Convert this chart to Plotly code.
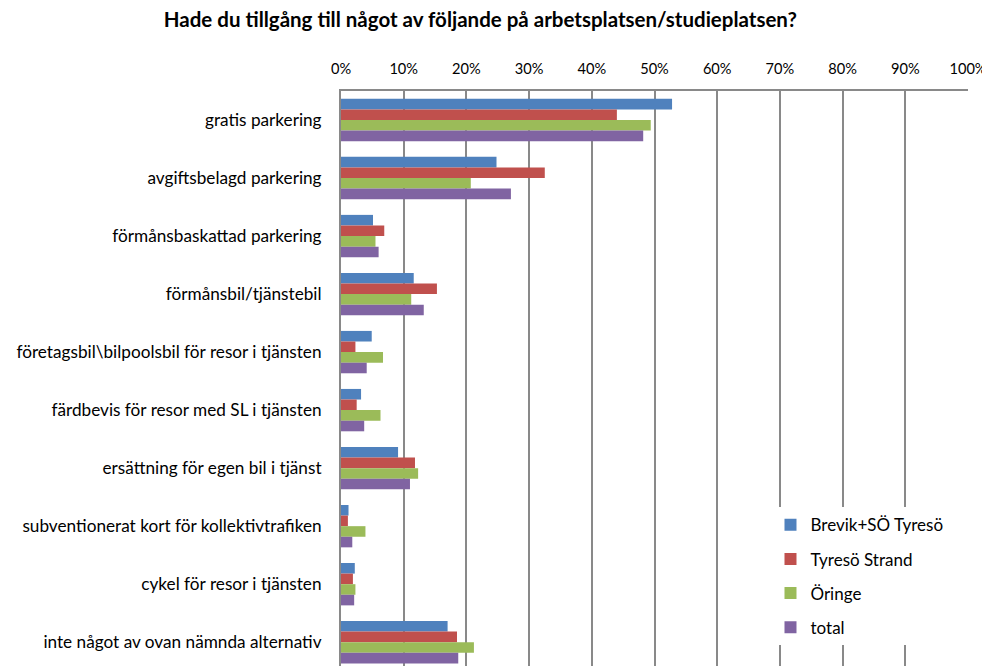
import plotly.graph_objects as go

categories = [
    "gratis parkering",
    "avgiftsbelagd parkering",
    "förmånsbaskattad parkering",
    "förmånsbil/tjänstebil",
    "företagsbil\\bilpoolsbil för resor i tjänsten",
    "färdbevis för resor med SL i tjänsten",
    "ersättning för egen bil i tjänst",
    "subventionerat kort för kollektivtrafiken",
    "cykel för resor i tjänsten",
    "inte något av ovan nämnda alternativ",
]
series_names = ["Brevik+SÖ Tyresö", "Tyresö Strand", "Öringe", "total"]
brevik = [0.528, 0.248, 0.051, 0.116, 0.049, 0.032, 0.091, 0.012, 0.022, 0.170]
strand = [0.440, 0.325, 0.069, 0.153, 0.023, 0.025, 0.118, 0.011, 0.019, 0.185]
oringe = [0.494, 0.207, 0.055, 0.112, 0.067, 0.063, 0.123, 0.039, 0.023, 0.212]
total = [0.482, 0.271, 0.060, 0.132, 0.041, 0.037, 0.110, 0.018, 0.021, 0.187]
series_values = [brevik, strand, oringe, total]
colors = ["#4F81BD", "#C0504D", "#9BBB59", "#8064A2"]
tick_vals = [i / 10 for i in range(11)]
tick_text = [f"{i * 10}%" for i in range(11)]

font_family = "Lato, 'Open Sans', sans-serif"
grid_color = "#898989"

fig = go.Figure()
for name, vals, col in zip(series_names, series_values, colors):
    fig.add_trace(go.Bar(
        y=categories, x=vals, name=name, orientation="h",
        legendgroup=name,
        marker=dict(color=col, line=dict(width=0)),
    ))

fig.update_layout(
    width=982, height=658,
    paper_bgcolor="white", plot_bgcolor="white",
    barmode="group", bargap=0.27, bargroupgap=0,
    margin=dict(l=333, r=22, t=83, b=0, autoexpand=False),
    font=dict(family=font_family, size=17, color="#000000"),
    title=dict(
        text="<b>Hade du tillgång till något av följande på arbetsplatsen/studieplatsen?</b>",
        x=0.481, xanchor="center", y=0.982, yanchor="middle",
        font=dict(family=font_family, size=20.5, color="#000000"),
    ),
    xaxis=dict(
        side="top", range=[0, 1], tickvals=tick_vals, ticktext=tick_text,
        showgrid=True, gridcolor=grid_color, gridwidth=1.5,
        showline=True, linecolor=grid_color, linewidth=1.5,
        ticks="", zeroline=False, fixedrange=True, automargin=False,
        tickfont=dict(size=14.6), ticklabelstandoff=9,
    ),
    yaxis=dict(
        categoryorder="array", categoryarray=categories,
        range=[9.41, -0.5], automargin=False,
        showline=True, linecolor=grid_color, linewidth=2,
        ticks="", showgrid=False, ticklabelstandoff=14,
        tickfont=dict(size=17.2),
    ),
    legend=dict(
        x=0.685, y=0.276, xanchor="left", yanchor="top",
        bgcolor="white", borderwidth=0,
        font=dict(size=17), itemwidth=30, tracegroupgap=9,
        traceorder="grouped",
    ),
)

fig.write_html("out.html")
